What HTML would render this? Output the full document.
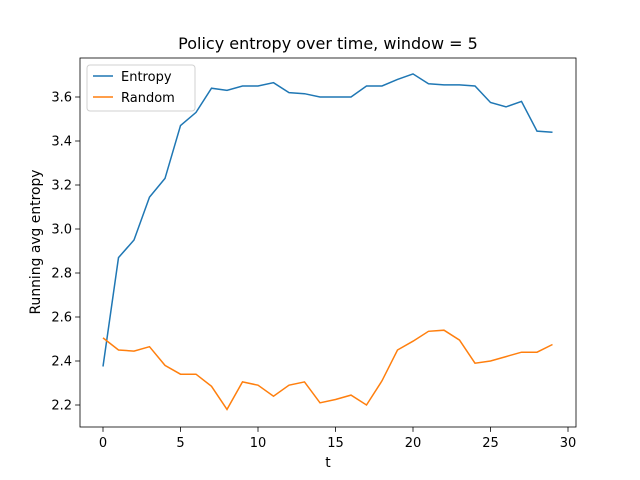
<!DOCTYPE html>
<html><head><meta charset="utf-8"><style>body{margin:0;background:#fff}svg{display:block;font-family:"DejaVu Sans","Liberation Sans",sans-serif}</style></head>
<body>
<svg id="chart" width="640" height="480"></svg>
<script>
const tValues=[0,1,2,3,4,5,6,7,8,9,10,11,12,13,14,15,16,17,18,19,20,21,22,23,24,25,26,27,28,29];
const entropyValues=[2.375,2.87,2.95,3.145,3.23,3.47,3.53,3.64,3.63,3.65,3.65,3.665,3.62,3.615,3.6,3.6,3.6,3.65,3.65,3.68,3.705,3.66,3.655,3.655,3.65,3.575,3.555,3.58,3.445,3.44];
const randomValues=[2.505,2.45,2.445,2.465,2.38,2.34,2.34,2.285,2.18,2.305,2.29,2.24,2.29,2.305,2.21,2.225,2.245,2.2,2.31,2.45,2.49,2.535,2.54,2.495,2.39,2.40,2.42,2.44,2.44,2.475];
const xTicks=[0,5,10,15,20,25,30];
const yTicks=[2.2,2.4,2.6,2.8,3.0,3.2,3.4,3.6];
const NS='http://www.w3.org/2000/svg';
const svg=document.getElementById('chart');
const L=80,R=576,T=58,B=427;
const xs=v=>103+(v-0)*(568-103)/30;
const ys=v=>405-(v-2.2)*220;
function el(tag,attrs,parent){const e=document.createElementNS(NS,tag);for(const k in attrs)e.setAttribute(k,attrs[k]);(parent||svg).appendChild(e);return e;}
function txt(s,attrs){const e=el('text',attrs);e.textContent=s;return e;}
const e1=el('polyline',{points:tValues.map((t,i)=>xs(t)+','+ys(entropyValues[i])).join(' '),fill:'none',stroke:'#1f77b4','stroke-width':1.5});


const e2=el('polyline',{points:tValues.map((t,i)=>xs(t)+','+ys(randomValues[i])).join(' '),fill:'none',stroke:'#ff7f0e','stroke-width':1.5});


const fr=el('rect',{x:L,y:T,width:R-L,height:B-T,fill:'none',stroke:'#000','stroke-width':0.8});


xTicks.forEach(v=>{const x=xs(v);el('line',{x1:x,x2:x,y1:B,y2:B+4.9,stroke:'#000','stroke-width':0.8});
const t=txt(String(v),{x:x,y:B+20,'font-size':13,'text-anchor':'middle'});

});
yTicks.forEach(v=>{const y=ys(v);el('line',{x1:L-4.9,x2:L,y1:y,y2:y,stroke:'#000','stroke-width':0.8});
const t=txt(v.toFixed(1),{x:L-8,y:y+4.5,'font-size':13,'text-anchor':'end'});

});
const xt=txt('t',{x:328,y:467,'font-size':13.9,'text-anchor':'middle'});


const yt=txt('Running avg entropy',{x:0,y:0,'font-size':13.9,'text-anchor':'middle',transform:'translate(40,242) rotate(-90)'});


const ti=txt('Policy entropy over time, window = 5',{x:328,y:49,'font-size':16,'text-anchor':'middle'});


const lg=el('g',{});


el('rect',{x:87,y:65,width:108,height:46,rx:3,fill:'#fff',stroke:'#ccc','stroke-width':1,opacity:0.9},lg);
el('line',{x1:93,x2:113,y1:76,y2:76,stroke:'#1f77b4','stroke-width':1.5},lg);
el('line',{x1:93,x2:113,y1:97,y2:97,stroke:'#ff7f0e','stroke-width':1.5},lg);
const l1=el('text',{x:121,y:81,'font-size':13},lg);l1.textContent='Entropy';


const l2=el('text',{x:121,y:102,'font-size':13},lg);l2.textContent='Random';


</script>
</body></html>
